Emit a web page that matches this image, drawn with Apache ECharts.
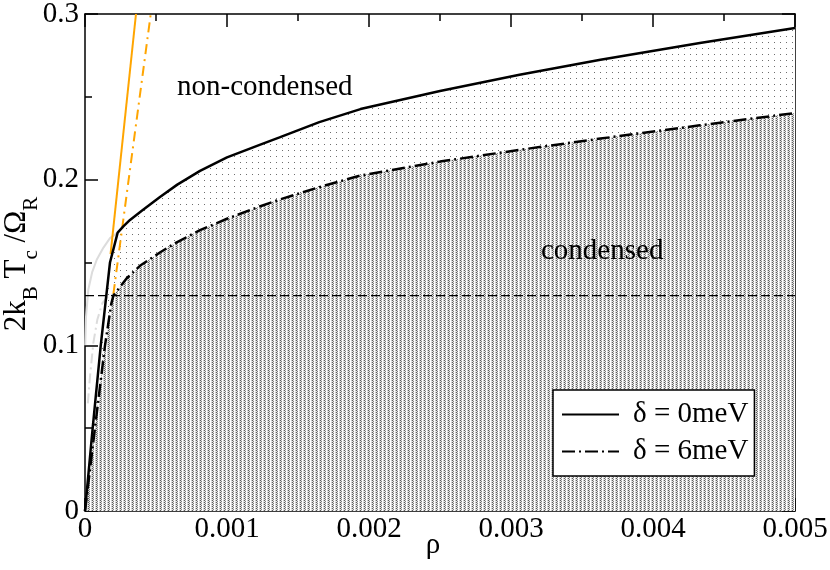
<!DOCTYPE html>
<html>
<head>
<meta charset="utf-8">
<script src="https://cdn.jsdelivr.net/npm/echarts@6/dist/echarts.min.js"></script>
<style>
html, body { margin: 0; padding: 0; background: #fff; }
#chart { width: 830px; height: 570px; }
</style>
</head>
<body>
<div id="chart"></div>
<script>

// delta = 0 meV boundary
const rho0 = [0, 0.000054, 0.000111, 0.000176, 0.00023, 0.00027, 0.000317, 0.0004, 0.000528, 0.00065, 0.00081, 0.001, 0.00123, 0.00137, 0.00165, 0.00194, 0.0025, 0.00306, 0.00363, 0.00433, 0.005];
const tc0 = [0, 0.05, 0.1, 0.15, 0.168, 0.1718, 0.1757, 0.1812, 0.1895, 0.197, 0.2053, 0.2135, 0.221, 0.2255, 0.2347, 0.2426, 0.2535, 0.2633, 0.2724, 0.2825, 0.2915];

// delta = 6 meV boundary
const rho6 = [0, 0.00007, 0.000141, 0.000185, 0.0002, 0.000294, 0.000387, 0.00053, 0.000646, 0.00081, 0.001, 0.00123, 0.00137, 0.00165, 0.00194, 0.0025, 0.00306, 0.00363, 0.00433, 0.005];
const tc6 = [0, 0.05, 0.1, 0.125, 0.13, 0.1405, 0.148, 0.1562, 0.1622, 0.1695, 0.1764, 0.1838, 0.188, 0.1955, 0.2025, 0.2109, 0.218, 0.2248, 0.2328, 0.2402];

// faint grey continuations
const rhoGrey0 = [0.0000015, 0.000007, 0.0000232, 0.00005, 0.0000824, 0.00013, 0.000176, 0.00023];
const tcGrey0 = [0.1, 0.117, 0.1335, 0.144, 0.1516, 0.159, 0.1647, 0.168];
const rhoGrey6 = [0.00002, 0.0000352, 0.0000585, 0.0000866, 0.000122, 0.000157, 0.0002];
const tcGrey6 = [0.065, 0.0811, 0.1013, 0.1154, 0.1254, 0.129, 0.131];

// orange straight lines
const rhoOrange0 = [0.00018, 0.000359];
const tcOrange0 = [0.155, 0.3];
const rhoOrange6 = [0.0002, 0.000463];
const tcOrange6 = [0.131, 0.3];

// horizontal reference
const rhoRef = [0, 0.005];
const tcRef = [0.13, 0.13];

const seriesNames = ['δ = 0meV', 'δ = 6meV'];
const xTicks = [0, 0.001, 0.002, 0.003, 0.004, 0.005];
const yTicks = [0, 0.1, 0.2, 0.3];

const FONT = 'Liberation Serif';

const zip = (xs, ys) => xs.map((x, i) => [x, ys[i]]);

// pixel pattern for the hatched regions
const makePattern = (w, h, greys) => {
	const c = document.createElement('canvas');
	c.width = w;
	c.height = h;
	const ctx = c.getContext('2d');
	const img = ctx.createImageData(w, h);
	greys.forEach((g, i) => {
		img.data[i * 4] = g;
		img.data[i * 4 + 1] = g;
		img.data[i * 4 + 2] = g;
		img.data[i * 4 + 3] = 255;
	});
	ctx.putImageData(img, 0, 0);
	return c;
};

const densePattern = makePattern(4, 2, [90, 225, 255, 200, 225, 130, 255, 230]);
const sparseGreys = new Array(6 * 6).fill(255);
sparseGreys[0] = 110;
const sparsePattern = makePattern(6, 6, sparseGreys);

const serifText = { fontFamily: FONT, fontSize: 29, fontWeight: 'normal', color: '#000' };

const axisCommon = {
	type: 'value',
	axisLine: { show: true, onZero: false, lineStyle: { color: '#000', width: 1.5 } },
	axisTick: { show: true, inside: true, length: 13, lineStyle: { color: '#000', width: 1.5 } },
	minorTick: { show: true, splitNumber: 2, length: 7, lineStyle: { color: '#000', width: 1.5 } },
	splitLine: { show: false },
};

const lineSeries = (name, data, style, z) => ({
	name,
	type: 'line',
	data,
	symbol: 'none',
	silent: true,
	z,
	lineStyle: style,
});

const chart = echarts.init(document.getElementById('chart'));
chart.setOption({
	animation: false,
	backgroundColor: '#fff',
	textStyle: { fontFamily: FONT, color: '#000' },
	grid: { left: 85, right: 35, top: 14, bottom: 59, containLabel: false, outerBoundsMode: 'none' },
	xAxis: [
		Object.assign({}, axisCommon, {
			min: xTicks[0],
			max: xTicks[xTicks.length - 1],
			interval: 0.001,
			axisLabel: Object.assign({
				margin: 4,
				formatter: (v) => (v === 0 ? '0' : v.toFixed(3)),
			}, serifText),
		}),
		Object.assign({}, axisCommon, {
			position: 'top',
			min: xTicks[0],
			max: xTicks[xTicks.length - 1],
			interval: 0.001,
			axisLabel: { show: false },
		}),
	],
	yAxis: [
		Object.assign({}, axisCommon, {
			min: yTicks[0],
			max: yTicks[yTicks.length - 1],
			interval: 0.1,
			axisLabel: Object.assign({
				margin: 6,
				formatter: (v) => (v === 0 ? '0' : v.toFixed(1)),
			}, serifText),
		}),
		Object.assign({}, axisCommon, {
			position: 'right',
			min: yTicks[0],
			max: yTicks[yTicks.length - 1],
			interval: 0.1,
			axisLabel: { show: false },
		}),
	],
	legend: {
		data: seriesNames,
		orient: 'vertical',
		left: 553,
		top: 390,
		padding: [10, 6, 10, 8],
		itemGap: 8,
		itemWidth: 57,
		itemHeight: 14,
		backgroundColor: '#fff',
		borderColor: '#000',
		borderWidth: 1.5,
		borderRadius: 0,
		selectedMode: false,
		itemStyle: { opacity: 0 },
		textStyle: { fontFamily: FONT, fontSize: 29, color: '#000', padding: [0, 0, 0, 9] },
	},
	graphic: [
		{
			type: 'text', left: 177, top: 73, z: 100,
			style: { text: 'non-condensed', fontFamily: FONT, fontSize: 29, fill: '#000' },
		},
		{
			type: 'text', left: 541, top: 237, z: 100,
			style: { text: 'condensed', fontFamily: FONT, fontSize: 29, fill: '#000' },
		},
		{
			// x axis title
			type: 'text', x: 433, y: 545, z: 100,
			style: { text: 'ρ', fontFamily: FONT, fontSize: 29, fill: '#000', align: 'center', verticalAlign: 'middle' },
		},
		{
			// y axis title
			type: 'text', x: 26, y: 264, rotation: Math.PI / 2, z: 100,
			style: {
				text: '{a|2k}{b|B}{a| T}{b|c}{a| /Ω}{b|R}',
				align: 'center',
				verticalAlign: 'middle',
				rich: {
					a: { fontFamily: FONT, fontSize: 31, lineHeight: 32, fill: '#000', verticalAlign: 'bottom', padding: [0, 0, 10, 0] },
					b: { fontFamily: FONT, fontSize: 21, lineHeight: 21, fill: '#000', verticalAlign: 'bottom' },
				},
			},
		},
	],
	series: [
		Object.assign(lineSeries('area0', zip(rho0, tc0), { width: 0, opacity: 0 }, 1), {
			areaStyle: { color: { image: sparsePattern, repeat: 'repeat' }, opacity: 1 },
		}),
		Object.assign(lineSeries('area6', zip(rho6, tc6), { width: 0, opacity: 0 }, 2), {
			areaStyle: { color: { image: densePattern, repeat: 'repeat' }, opacity: 1 },
		}),
		lineSeries('grey0', zip(rhoGrey0, tcGrey0), { color: '#dcdcdc', width: 2, type: 'solid' }, 3),
		lineSeries('grey6', zip(rhoGrey6, tcGrey6), { color: '#dcdcdc', width: 2, type: [10, 4, 2, 4] }, 3),
		lineSeries('ref', zip(rhoRef, tcRef), { color: '#000', width: 1.2, type: [9, 4] }, 4),
		lineSeries('orange0', zip(rhoOrange0, tcOrange0), { color: '#ffa500', width: 2, type: 'solid' }, 5),
		lineSeries('orange6', zip(rhoOrange6, tcOrange6), { color: '#ffa500', width: 2, type: [10, 5, 2, 5] }, 5),
		Object.assign(lineSeries(seriesNames[0], zip(rho0, tc0), { color: '#000', width: 2.5, type: 'solid' }, 6), { itemStyle: { color: '#000' } }),
		Object.assign(lineSeries(seriesNames[1], zip(rho6, tc6), { color: '#000', width: 2.5, type: [13, 4, 2, 4] }, 6), { itemStyle: { color: '#000' } }),
	],
});
</script>
</body>
</html>
